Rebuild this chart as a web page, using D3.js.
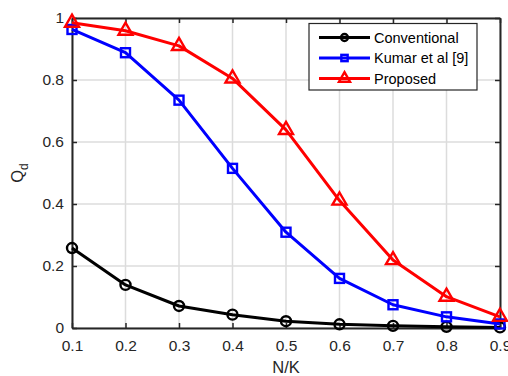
<!DOCTYPE html>
<html><head><meta charset="utf-8">
<script src="https://cdn.jsdelivr.net/npm/d3@7"></script>
<style>body{margin:0;background:#fff}svg{display:block}</style>
</head><body>
<svg id="c" width="508" height="376"></svg>
<script>
const xValues = [0.1,0.2,0.3,0.4,0.5,0.6,0.7,0.8,0.9];
const conventional = [0.258,0.139,0.071,0.043,0.022,0.012,0.007,0.004,0.002];
const kumar = [0.963,0.888,0.735,0.515,0.309,0.160,0.075,0.036,0.013];
const proposed = [0.985,0.959,0.910,0.805,0.639,0.411,0.219,0.101,0.036];
const xTicks = [0.1,0.2,0.3,0.4,0.5,0.6,0.7,0.8,0.9];
const yTicks = [0,0.2,0.4,0.6,0.8,1];
const seriesNames = ["Conventional","Kumar et al [9]","Proposed"];
const seriesColors = ["#000000","#0000ff","#ff0000"];
const seriesMarkers = ["circle","square","triangle"];

const svg = d3.select("#c");
const L=72,R=500,T=18,B=328;
const x = d3.scaleLinear().domain([0.1,0.9]).range([L,R]);
const y = d3.scaleLinear().domain([0,1]).range([B,T]);
const axisCol="#262626", font="'Liberation Sans', Arial, sans-serif";

// grid
const g = svg.append("g");
g.selectAll(".gx").data(xTicks).enter().append("line")
 .attr("x1",d=>x(d)).attr("x2",d=>x(d)).attr("y1",T).attr("y2",B)
 .attr("stroke","#dcdcdc").attr("stroke-width",1.5);
g.selectAll(".gy").data(yTicks).enter().append("line")
 .attr("x1",L).attr("x2",R).attr("y1",d=>y(d)).attr("y2",d=>y(d))
 .attr("stroke","#dcdcdc").attr("stroke-width",1.5);

// axes
const fmt = d=> d===0?"0":(d===1?"1":d3.format(".1f")(d));
const ax = (gen, tr) => {
  const a = svg.append("g").attr("transform",tr).call(gen);
  a.select(".domain").attr("stroke",axisCol).attr("stroke-width",2);
  a.selectAll(".tick line").attr("stroke",axisCol).attr("stroke-width",1.5);
  a.selectAll("text").attr("fill",axisCol).style("font-family",font).style("font-size","15.5px");
  return a;
};
ax(d3.axisBottom(x).tickValues(xTicks).tickFormat(fmt).tickSizeInner(-5).tickSizeOuter(0).tickPadding(12),`translate(0,${B})`);
ax(d3.axisTop(x).tickValues(xTicks).tickFormat("").tickSizeInner(-5).tickSizeOuter(0),`translate(0,${T})`);
ax(d3.axisLeft(y).tickValues(yTicks).tickFormat(fmt).tickSizeInner(-5).tickSizeOuter(0).tickPadding(8),`translate(${L},0)`);
ax(d3.axisRight(y).tickValues(yTicks).tickFormat("").tickSizeInner(-5).tickSizeOuter(0),`translate(${R},0)`);

// series
const all=[conventional,kumar,proposed];
const line = d3.line().x((d,i)=>x(xValues[i])).y(d=>y(d));
function marker(sel, type, color, s){
  if(type==="circle") sel.append("circle").attr("r",s*0.5).attr("fill","none").attr("stroke",color).attr("stroke-width",2.4);
  else if(type==="square") sel.append("rect").attr("x",-s*0.45).attr("y",-s*0.45).attr("width",s*0.9).attr("height",s*0.9).attr("fill","none").attr("stroke",color).attr("stroke-width",2.4);
  else sel.append("path").attr("d",d3.symbol(d3.symbolTriangle, s*s*0.433)()).attr("fill","none").attr("stroke",color).attr("stroke-width",2.4);
}
all.forEach((vals,k)=>{
  svg.append("path").datum(vals).attr("d",line).attr("fill","none")
   .attr("stroke",seriesColors[k]).attr("stroke-width",3).attr("stroke-linejoin","round");
  vals.forEach((v,i)=>{
    const m = svg.append("g").attr("transform",`translate(${x(xValues[i])},${y(v)})`);
    marker(m, seriesMarkers[k], seriesColors[k], k===2?14:10);
  });
});

// labels
svg.append("text").attr("x",286).attr("y",373).attr("text-anchor","middle")
 .attr("fill",axisCol).style("font-family",font).style("font-size","16.5px").text("N/K");
const yl = svg.append("text").attr("transform","translate(23,173) rotate(-90)").attr("text-anchor","middle")
 .attr("fill",axisCol).style("font-family",font).style("font-size","16.5px");
yl.append("tspan").text("Q");
yl.append("tspan").attr("dy",5).style("font-size","12px").text("d");

// legend
const lg = svg.append("g");
lg.append("rect").attr("x",309).attr("y",23.5).attr("width",168).attr("height",66.5)
 .attr("fill","#fff").attr("stroke",axisCol).attr("stroke-width",1.2);
seriesNames.forEach((n,k)=>{
  const yy = 37.5 + k*20.5;
  lg.append("line").attr("x1",319).attr("x2",370).attr("y1",yy).attr("y2",yy)
   .attr("stroke",seriesColors[k]).attr("stroke-width",3);
  const m = lg.append("g").attr("transform",`translate(344.5,${yy})`);
  marker(m, seriesMarkers[k], seriesColors[k], k===2?11:7);
  lg.append("text").attr("x",374).attr("y",yy+5).attr("fill","#000")
   .style("font-family",font).style("font-size","14.5px").text(n);
});
</script>
</body></html>
